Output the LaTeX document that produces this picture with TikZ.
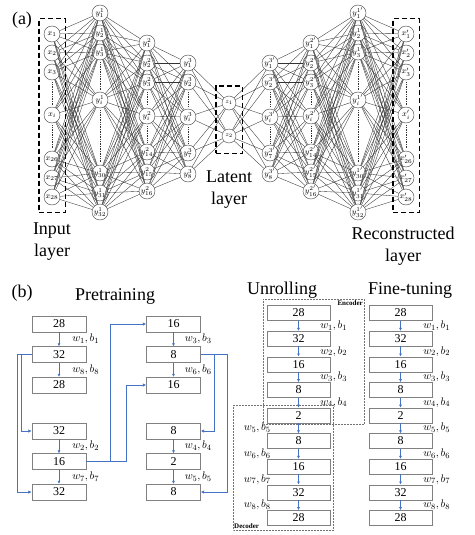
\documentclass[tikz,border=0pt]{standalone}
\usepackage{fontspec}
\setmainfont{Liberation Serif}
\usepackage{amsmath}
\usetikzlibrary{arrows.meta,calc,fit,positioning}
\definecolor{linkblue}{RGB}{68,114,196}
\tikzset{%
	neuron/.style   = {draw=black!75, circle, inner sep=0pt, minimum size=16pt, font=\fontsize{8}{8}\selectfont},
	latent/.style   = {neuron, minimum size=14pt, font=\fontsize{6}{6}\selectfont},
	link/.style     = {black!80, line width=0.35pt},
	dots/.style     = {black!80, line width=1pt, dash pattern=on 0.7pt off 1pt, shorten >=2pt, shorten <=2pt},
	layerbox/.style = {draw, line width=1.4pt, dash pattern=on 5pt off 3pt, inner sep=0pt},
	caption/.style  = {font=\fontsize{18}{22}\selectfont, align=center, inner sep=0pt},
}
\tikzset{%
	unit/.style     = {draw=black!50, rectangle, minimum width=54pt, minimum height=16pt, inner sep=0pt, font=\fontsize{12}{12}\selectfont},
	wideunit/.style = {unit, minimum width=63pt, minimum height=15pt},
	pass/.style     = {linkblue, line width=0.6pt, -{Latex[length=3pt,width=3pt]}},
	flow/.style     = {linkblue, line width=1pt, -{Latex[length=3.5pt,width=3.5pt]}},
	wlabel/.style   = {text=black, font=\fontsize{11}{11}\selectfont, inner sep=0pt},
	group/.style    = {draw=black!55, densely dotted, line width=0.5pt},
	grouptag/.style = {font=\fontsize{7}{7}\selectfont\bfseries, inner sep=1pt},
	title/.style    = {font=\fontsize{18}{18}\selectfont, anchor=base},
}

\begin{document}
\begin{tikzpicture}[x=1pt,y=-1pt,node distance=30.5pt]
	\useasboundingbox (0,0) rectangle (474,535);
	% (a) the autoencoder
	\node[title] at (22,25) {(a)};
	\foreach \k/\y/\s in {1/34/1,2/53/2,3/72/3,4/115/i,5/159/26,6/178/27,7/197/28} {
		\node[neuron] (xin\k) at (52,\y) {$x_{\s}$};
		\node[neuron] (xout\k) at (406,\y) {$x'_{\s}$};
	}
	\foreach \k/\y/\s in {1/13/1,2/33/2,3/52/3,4/100/i,5/173/30,6/193/31,7/212/32} {
		\node[neuron] (hA\k) at (100,\y) {$y^{1}_{\s}$};
		\node[neuron] (rA\k) at (358,\y) {$y^{1'}_{\s}$};
	}
	\foreach \k/\y/\s in {1/43/1,2/63/2,3/82/3,4/116/i,5/152/14,6/172/15,7/191/16} {
		\node[neuron] (hB\k) at (147,\y) {$y^{2}_{\s}$};
		\node[neuron] (rB\k) at (311,\y) {$y^{2'}_{\s}$};
	}
	\foreach \k/\y/\s in {1/63/1,2/82/2,3/117/i,4/153/7,5/174/8} {
		\node[neuron] (hC\k) at (188,\y) {$y^{3}_{\s}$};
		\node[neuron] (rC\k) at (270,\y) {$y^{3'}_{\s}$};
	}
	\node[latent] (z1) at (229,103) {$z_1$};
	\node[latent] (z2) at (229,136) {$z_2$};

	\foreach \i in {1,...,7} \foreach \j in {1,...,7} {
		\draw[link] (xin\i) -- (hA\j);
		\draw[link] (hA\i) -- (hB\j);
		\draw[link] (xout\i) -- (rA\j);
		\draw[link] (rA\i) -- (rB\j);
	}
	\foreach \i in {1,...,7} \foreach \j in {1,...,5} {
		\draw[link] (hB\i) -- (hC\j);
		\draw[link] (rB\i) -- (rC\j);
	}
	\foreach \i in {1,...,5} \foreach \j in {1,2} {
		\draw[link] (hC\i) -- (z\j);
		\draw[link] (rC\i) -- (z\j);
	}
	\foreach \lay in {xin,hA,hB,xout,rA,rB} {
		\draw[dots] (\lay3) -- (\lay4);
		\draw[dots] (\lay4) -- (\lay5);
	}
	\foreach \lay in {hC,rC} {
		\draw[dots] (\lay2) -- (\lay3);
		\draw[dots] (\lay3) -- (\lay4);
	}

	\node[layerbox, fit=(xin1)(xin7), inner xsep=5pt, inner ysep=7pt] (inbox) {};
	\node[layerbox, fit=(z1)(z2), inner xsep=6pt, inner ysep=10pt] (zbox) {};
	\node[layerbox, fit=(xout1)(xout7), inner xsep=5pt, inner ysep=7pt] (outbox) {};
	\node[caption, below=10pt of inbox] {Input\\layer};
	\node[caption, below=17pt of zbox] {Latent\\layer};
	\node[caption, below=14pt of outbox, xshift=-3pt] {Reconstructed\\layer};

	% (b) training steps
	\node[title] at (22,297) {(b)};
	\node[title] at (115,300) {Pretraining};
	\node[unit] (p1) at (59,324) {28};
	\node[unit, below of=p1] (p2) {32};
	\node[unit, below of=p2] (p3) {28};
	\node[unit, below of=p3, node distance=46pt] (p4) {32};
	\node[unit, below of=p4] (p5) {16};
	\node[unit, below of=p5] (p6) {32};
	\node[unit, right of=p1, node distance=114.5pt] (q1) {16};
	\node[unit, below of=q1] (q2) {8};
	\node[unit, below of=q2] (q3) {16};
	\node[unit, below of=q3, node distance=46pt] (q4) {8};
	\node[unit, below of=q4] (q5) {2};
	\node[unit, below of=q5] (q6) {8};

	\draw[pass] (p1) -- node[wlabel, right=13pt] {$w_1, b_1$} (p2);
	\draw[pass] (p2) -- node[wlabel, right=13pt] {$w_8, b_8$} (p3);
	\draw[pass] (p4) -- node[wlabel, right=13pt] {$w_2, b_2$} (p5);
	\draw[pass] (p5) -- node[wlabel, right=13pt] {$w_7, b_7$} (p6);
	\draw[pass] (q1) -- node[wlabel, right=11pt] {$w_3, b_3$} (q2);
	\draw[pass] (q2) -- node[wlabel, right=11pt] {$w_6, b_6$} (q3);
	\draw[pass] (q4) -- node[wlabel, right=11pt] {$w_4, b_4$} (q5);
	\draw[pass] (q5) -- node[wlabel, right=11pt] {$w_5, b_5$} (q6);

	\draw[flow] (p2.west) -- ++(-14,0) |- (p6.west);
	\draw[flow] (p2.west) -- ++(-10,0) |- (p4.west);
	\draw[flow] (p5.east) -- ++(24,0) |- (q1.west);
	\draw[flow] (p5.east) -- ++(40,0) |- (q3.west);
	\draw[flow] (q2.east) -- ++(14,0) |- (q4.east);
	\draw[flow] (q2.east) -- ++(27,0) |- (q6.east);

	\node[title] at (282,294) {Unrolling};
	\node[title] at (410,294) {Fine-tuning};
	\foreach \val [count=\k] in {28,32,16,8,2,8,16,32,28} {
		\node[wideunit] (u\k) at (298.5,{313+25.6*(\k-1)}) {\val};
		\node[wideunit] (f\k) at (400.5,{313+25.6*(\k-1)}) {\val};
	}
	\foreach \k [count=\n from 2] in {1,...,4}
		\draw[pass] (u\k) -- node[wlabel, right=21.5pt] {$w_{\k}, b_{\k}$} (u\n);
	\foreach \k [count=\n from 6] in {5,...,8}
		\draw[pass] (u\k) -- node[wlabel, left=27.5pt] {$w_{\k}, b_{\k}$} (u\n);
	\foreach \k [count=\n from 2] in {1,...,8}
		\draw[pass] (f\k) -- node[wlabel, right=22.5pt] {$w_{\k}, b_{\k}$} (f\n);

	\draw[group] (263,299) rectangle (364,424);
	\node[grouptag, anchor=north east] (enc) at (364,299) {Encoder};
	\draw[group] (233,405) rectangle (333,530);
	\node[grouptag, anchor=south west] (dec) at (233,530) {Decoder};
\end{tikzpicture}
\end{document}
